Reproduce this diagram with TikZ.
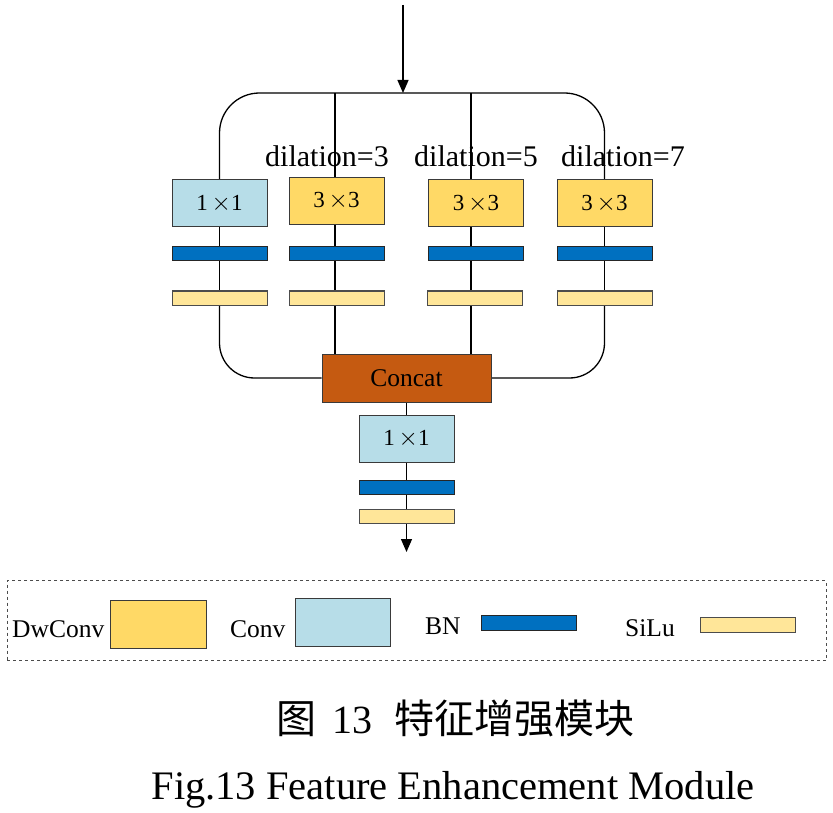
\documentclass[tikz,border=0pt]{standalone}
\usepackage{fontspec}
\setmainfont{Liberation Serif}
\newfontfamily\cjk{Noto Sans CJK SC}
\usetikzlibrary{arrows.meta}
\definecolor{convblue}{HTML}{B7DDE8}
\definecolor{dwyellow}{HTML}{FFD966}
\definecolor{bnblue}{HTML}{0070C0}
\definecolor{siluyel}{HTML}{FFE699}
\definecolor{concatc}{HTML}{C55A11}
\definecolor{edgec}{HTML}{3A3A3A}
\tikzset{
  box/.style={draw=edgec, line width=1pt, minimum width=95pt, minimum height=47pt, inner sep=0pt,
    font=\fontsize{23}{23}\selectfont},
  convbox/.style={box, fill=convblue},
  dwbox/.style={box, fill=dwyellow},
  catbox/.style={box, fill=concatc, minimum width=169pt, minimum height=48pt, font=\fontsize{25.5}{25.5}\selectfont},
  bnbar/.style={draw=black!85, line width=1pt, fill=bnblue, minimum width=95pt, minimum height=14pt, inner sep=0pt},
  silubar/.style={draw=black!70, line width=1pt, fill=siluyel, minimum width=95pt, minimum height=14pt, inner sep=0pt},
  link/.style={draw=black, line width=1.3pt},
  arr/.style={link, -{Triangle[length=13pt, width=11pt]}},
  dil/.style={anchor=base, inner sep=0pt, font=\fontsize{30}{30}\selectfont},
  legtext/.style={anchor=base west, inner sep=0pt, font=\fontsize{25.5}{25.5}\selectfont},
}
\begin{document}
\begin{tikzpicture}[x=1pt, y=-1pt]
\useasboundingbox (0,0) rectangle (833,813);
% branch boxes
\node[convbox] (b1) at (219.5,203.5) {1\,$\times$1};
\node[dwbox]   (b2) at (336.5,201) {3\,$\times$3};
\node[dwbox]   (b3) at (476,203.5) {3\,$\times$3};
\node[dwbox]   (b4) at (604.5,203.5) {3\,$\times$3};
\node[bnbar] (n1) at (219.5,254) {};
\node[bnbar] (n2) at (336.5,254) {};
\node[bnbar] (n3) at (476,254) {};
\node[bnbar] (n4) at (604.5,254) {};
\node[silubar] (s1) at (219.5,298) {};
\node[silubar] (s2) at (336.5,298) {};
\node[silubar] (s3) at (474.5,298) {};
\node[silubar] (s4) at (604.5,298) {};
% concat and tail
\node[catbox] (cat) at (406.5,378) {Concat};
\node[convbox] (c5) at (406.5,438.5) {1\,$\times$1};
\node[bnbar] (n5) at (406.5,487.5) {};
\node[silubar] (s5) at (406.5,516.5) {};
\coordinate (in) at (403,5);
\coordinate (split) at (403,93);
\coordinate (out) at (406.5,552);
% connectors
\draw[arr] (in) -- (split);
\draw[link, rounded corners=40pt] (b1.north) |- (split) -| (b4.north);
\draw[link] (b2.north |- split) ++(-1.5,0) coordinate (t2) -- (t2 |- b2.north);
\draw[link] (b3.north |- split) ++(-5,0) coordinate (t3) -- (t3 |- b3.north);
\draw[link] (b1) -- (n1) -- (s1);
\draw[link] (t2 |- b2.south) -- (t2 |- n2.north) (t2 |- n2.south) -- (t2 |- s2.north);
\draw[link] (t3 |- b3.south) -- (t3 |- n3.north) (t3 |- n3.south) -- (t3 |- s3.north);
\draw[link] (b4) -- (n4) -- (s4);
\draw[link, rounded corners=35pt] (s1.south) |- (cat.west);
\draw[link, rounded corners=35pt] (s4.south) |- (cat.east);
\draw[link] (t2 |- s2.south) -- (t2 |- cat.north);
\draw[link] (t3 |- s3.south) -- (t3 |- cat.north);
\draw[link] (cat) -- (c5);
\draw[link] (c5) -- (n5) -- (s5);
\draw[arr] (s5.south) -- (out);
% redraw boxes on top of lines
\node[convbox] at (b1) {1\,$\times$1};
\node[dwbox] at (b2) {3\,$\times$3};
\node[dwbox] at (b3) {3\,$\times$3};
\node[dwbox] at (b4) {3\,$\times$3};
\node[bnbar] at (n1) {};\node[bnbar] at (n2) {};\node[bnbar] at (n3) {};\node[bnbar] at (n4) {};\node[bnbar] at (n5) {};
\node[silubar] at (s1) {};\node[silubar] at (s2) {};\node[silubar] at (s3) {};\node[silubar] at (s4) {};\node[silubar] at (s5) {};
\node[catbox] at (cat) {Concat};
\node[convbox] at (c5) {1\,$\times$1};
% dilation labels
\node[dil] (d3) at (327,167) {dilation=3};
\node[dil] (d5) at (476,167) {dilation=5};
\node[dil] (d7) at (623,167) {dilation=7};
% legend
\node[draw=black!70, dashed, line width=0.8pt, minimum width=819pt, minimum height=80pt, inner sep=0pt] (leg) at (416.5,620.5) {};
\node[legtext] (l1) at (12,637) {DwConv};
\node[dwbox, minimum width=96pt, minimum height=48pt] (k1) at (158,624) {};
\node[legtext] (l2) at (230,637) {Conv};
\node[convbox, minimum height=48pt] (k2) at (342.5,622) {};
\node[legtext] (l3) at (425,634) {BN};
\node[bnbar, minimum height=15pt] (k3) at (529,622.5) {};
\node[legtext] (l4) at (625,636) {SiLu};
\node[silubar, minimum height=15pt] (k4) at (748,624.5) {};
% captions
\node[inner sep=0pt, font=\fontsize{40}{40}\selectfont] (cap1) at (455,718) {{\cjk 图}\hspace{16pt}13\hspace{22pt}{\cjk 特征增强模块}};
\node[inner sep=0pt, font=\fontsize{40.5}{40.5}\selectfont] (cap2) at (453,790) {Fig.13 Feature Enhancement Module};
\end{tikzpicture}
\end{document}
